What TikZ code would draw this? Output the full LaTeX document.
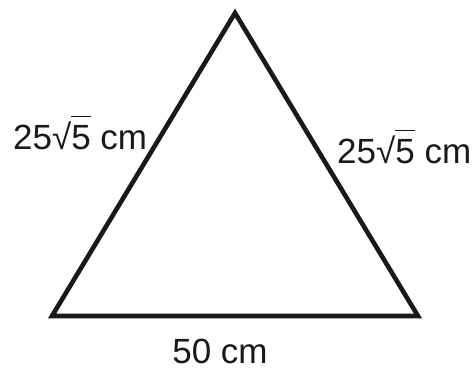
\documentclass[tikz,border=0pt]{standalone}
\usepackage{fontspec}
\setmainfont{Liberation Sans}
\newcommand{\rtfive}{25√\makebox[0pt][l]{\rule[0.93em]{0.56em}{0.045em}}5 cm}
\begin{document}
\begin{tikzpicture}[x=1pt,y=1pt,
  lbl/.style={inner sep=0pt,font=\fontsize{35}{40}\selectfont,text=black!90}]
\useasboundingbox (0,0) rectangle (476,367);
\coordinate (A) at (235,354);
\coordinate (B) at (52,51);
\coordinate (C) at (418,51);
\draw[line width=4.6pt,line join=miter,black!90] (A) -- (B) -- (C) -- cycle;
\node[lbl,anchor=base west] (l) at (13,217) {\rtfive};
\node[lbl,anchor=base west] (r) at (337,203) {\rtfive};
\node[lbl,anchor=base] (b) at (220,4) {50 cm};
\end{tikzpicture}
\end{document}
